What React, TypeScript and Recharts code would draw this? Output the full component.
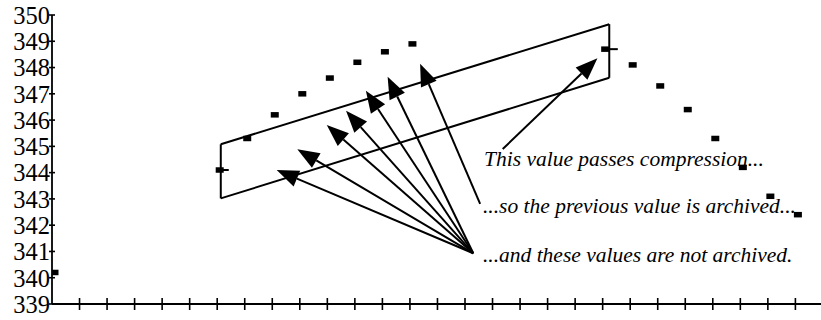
import { ScatterChart, Scatter, XAxis, YAxis, ReferenceLine, ReferenceDot } from "recharts";

// Sample index and archived value of each plotted point
const sampleIndex = [0, 6, 7, 8, 9, 10, 11, 12, 13, 20, 21, 22, 23, 24, 25, 26, 27];
const sampleValue = [340.2, 344.1, 345.3, 346.2, 347.0, 347.6, 348.2, 348.6, 348.9, 348.7, 348.1, 347.3, 346.4, 345.3, 344.2, 343.1, 342.4];

const xTicks = [1, 2, 3, 4, 5, 6, 7, 8, 9, 10, 11, 12, 13, 14, 15, 16, 17, 18, 19, 20, 21, 22, 23, 24, 25, 26, 27];
const yTicks = [339, 340, 341, 342, 343, 344, 345, 346, 347, 348, 349, 350];

// Compression band: [x1, y1, x2, y2] in chart units
const bandEdges = [
  [6.13, 345.08, 20.24, 349.65],
  [6.13, 343.02, 20.24, 347.61],
  [6.13, 345.08, 6.13, 343.02],
  [20.24, 349.65, 20.24, 347.61],
  [6.13, 344.1, 6.42, 344.1],
  [20.24, 348.7, 20.55, 348.7],
];

// Callout arrows: [tailX, tailY, tipX, tipY]
const arrows = [
  [15.3, 340.93, 8.16, 344.1],
  [15.3, 340.93, 8.91, 344.89],
  [15.3, 340.93, 9.98, 345.81],
  [15.3, 340.93, 10.68, 346.36],
  [15.3, 340.93, 11.4, 347.12],
  [15.3, 340.93, 12.19, 347.65],
  [15.55, 342.81, 13.37, 348.14],
  [16.37, 344.9, 19.81, 348.35],
];

const noteX = [15.69, 15.65, 15.65];
const noteY = [344.25, 342.46, 340.61];
const noteText = [
  "This value passes compression...",
  "...so the previous value is archived...",
  "...and these values are not archived.",
];

const points = sampleIndex.map((x, i) => ({ x, y: sampleValue[i] }));

const serifStyle = { fontFamily: "Liberation Serif" };

function XTick({ x, y }: any) {
  return <line x1={x} x2={x} y1={y - 6} y2={y + 6} stroke="#000" strokeWidth={1.6} />;
}

function YTick({ x, y, payload }: any) {
  return (
    <g>
      <line x1={x - 3} x2={x + 3} y1={y} y2={y} stroke="#000" strokeWidth={1.6} />
      <text x={x - 2} y={y} dy="0.36em" textAnchor="end" style={{ ...serifStyle, fontSize: 24.5 }} fill="#000">
        {payload.value}
      </text>
    </g>
  );
}

function Marker({ cx, cy }: any) {
  return <rect x={cx - 1.5} y={cy - 2.75} width={8} height={5.5} fill="#000" />;
}

function Arrow({ x1, y1, x2, y2 }: any) {
  const dx = x2 - x1;
  const dy = y2 - y1;
  const len = Math.hypot(dx, dy) || 1;
  const ux = dx / len;
  const uy = dy / len;
  const headLen = 22;
  const half = 8.5;
  const bx = x2 - ux * headLen;
  const by = y2 - uy * headLen;
  const pts = `${x2},${y2} ${bx - uy * half},${by + ux * half} ${bx + uy * half},${by - ux * half}`;
  return (
    <g>
      <line x1={x1} y1={y1} x2={bx} y2={by} stroke="#000" strokeWidth={2} />
      <polygon points={pts} fill="#000" />
    </g>
  );
}

export default function App() {
  return (
    <div style={{ position: "absolute", left: 0, top: 0, width: 821, height: 320, background: "#fff" }}>
      <ScatterChart width={821} height={320} margin={{ top: 15, right: 0, bottom: 0, left: 0 }}>
        <XAxis
          type="number"
          dataKey="x"
          domain={[0, 27.93]}
          ticks={xTicks}
          interval={0}
          height={16}
          tickSize={0}
          tickMargin={0}
          tickLine={false}
          tick={<XTick />}
          axisLine={{ stroke: "#000", strokeWidth: 2.2 }}
          allowDataOverflow
        />
        <YAxis
          type="number"
          dataKey="y"
          domain={[339, 350]}
          ticks={yTicks}
          interval={0}
          width={52}
          tickSize={0}
          tickMargin={0}
          tickLine={false}
          tick={<YTick />}
          axisLine={{ stroke: "#000", strokeWidth: 1.8 }}
          allowDataOverflow
        />
        {noteText.map((t, i) => (
          <ReferenceDot
            key={`note-${i}`}
            x={noteX[i]}
            y={noteY[i]}
            r={0}
            ifOverflow="visible"
            shape={({ cx, cy }: any) => (
              <text x={cx} y={cy} style={{ ...serifStyle, fontStyle: "italic", fontSize: 21.5 }} fill="#000">
                {t}
              </text>
            )}
          />
        ))}
        {bandEdges.map(([ax, ay, bx, by], i) => (
          <ReferenceLine
            key={`band-${i}`}
            segment={[{ x: ax, y: ay }, { x: bx, y: by }]}
            stroke="#000"
            strokeWidth={2}
            ifOverflow="visible"
          />
        ))}
        {arrows.map(([tx, ty, hx, hy], i) => (
          <ReferenceLine
            key={`arrow-${i}`}
            segment={[{ x: tx, y: ty }, { x: hx, y: hy }]}
            ifOverflow="visible"
            shape={(p: any) => <Arrow {...p} />}
          />
        ))}
        <Scatter data={points} shape={<Marker />} isAnimationActive={false} />
      </ScatterChart>
    </div>
  );
}
